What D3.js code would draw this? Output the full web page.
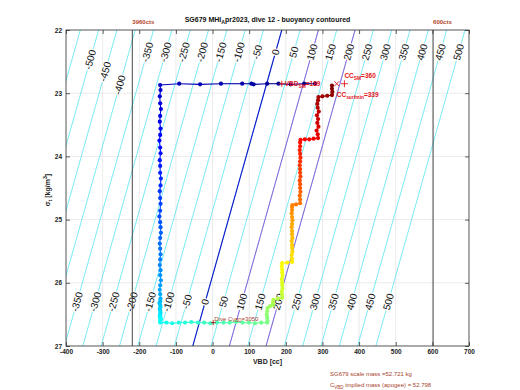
<!DOCTYPE html>
<html><head><meta charset="utf-8">
<script src="https://cdn.jsdelivr.net/npm/d3@7"></script>
<style>body{margin:0;background:#fff}svg{display:block}text{font-family:"Liberation Sans",Arial,Helvetica,sans-serif}</style>
</head><body><svg id="c" width="520" height="390"></svg>
<script>
// ---------- data ----------
const xTicks = [-400,-300,-200,-100,0,100,200,300,400,500,600,700];
const yTicks = [22,23,24,25,26,27];
const contourLevels = [-550,-500,-450,-400,-350,-300,-250,-200,-150,-100,-50,0,50,100,150,200,250,300,350,400,450,500];
const topLabelLevels = [-500,-450,-400,-350,-300,-250,-200,-150,-100,-50,0,50,100,150,200,250,300,350,400,450,500];
const bottomLabelLevels = [-350,-300,-250,-200,-150,-100,-50,0,50,100,150,200,250,300,350,400,450,500];
const neutralLevel = [0];
const purpleLevels = [100, 200];
const refVbd = [-219, 602];
const refLabels = ["3960cts", "600cts"];
// buoyancy contour geometry (VBD at sigma 22 for level 0, and cc change per sigma unit)
const contourOffset = 189, contourSlope = 48.6;

const surfVbd = [280,250,213,180,149,112,106,81,23,-34,-91];
const surfSigma = [22.85,22.85,22.86,22.85,22.85,22.86,22.85,22.85,22.85,22.86,22.85];

const descentVbd = [-143,-142,-144,-143,-141,-143,-144,-142,
 -143,-145,-143,-142,-144,-143,-143,-141,
 -142,-144,-143,-142,-143,-145,-143,-142,
 -141,-143,-144,-143,-142,-143,-144,-142,
 -143,-141,-143,-144,-143,-142,-143,-145,
 -143,-142,-144,-143,-142,-143,-144,-142,
 -143,-141,-143];
const descentSigma = [22.87,22.95,23.05,23.16,23.25,23.36,23.45,23.56,23.66,23.75,23.86,23.95,24.06,24.15,24.26,24.35,24.46,24.55,24.66,24.75,24.86,24.95,
 25.04,25.12,25.21,25.29,25.38,25.46,25.55,25.63,25.72,25.8,25.88,25.96,26.04,26.11,26.18,26.25,
 26.29,26.32,26.35,26.38,26.41,26.44,26.47,26.5,26.52,26.54,26.56,26.58,26.6];

const apogeeVbd = [-143,-126,-110,-92,-75,-58,-40,-23,-6,12,30,47,64,82,99,116,133];
const apogeeSigma = [26.63,26.63,26.64,26.63,26.63,26.62,26.63,26.63,26.64,26.63,26.63,26.63,26.62,26.63,26.63,26.64,26.63];

const climbVbd = [149,150,149,148,149,150, 157,165,165,166, 178,190,
 190,189,191,190,190,189,191,190,190,189,190, 204,217,
 217,216,218,217,217,216,218,217,217,216,217,218,217,216,217,217,218, 228,239,
 239,238,240,239,239,238,240,239,239,238,239,240,239,238,239,239,240,
 252,264,276,288, 287,284,289,286,288,285,290,287,286,288,289, 300,313,326, 327,326,326];
const climbSigma = [26.63,26.6,26.55,26.5,26.45,26.4, 26.37,26.35,26.31,26.27, 26.25,26.24,
 26.19,26.14,26.09,26.04,25.99,25.94,25.89,25.84,25.79,25.74,25.69, 25.68,25.67,
 25.62,25.56,25.51,25.45,25.4,25.34,25.29,25.23,25.18,25.12,25.07,25.01,24.96,24.9,24.85,24.8,24.77, 24.76,24.74,
 24.68,24.62,24.56,24.5,24.44,24.38,24.32,24.26,24.2,24.14,24.08,24.02,23.96,23.9,23.84,23.78,23.74,
 23.73,23.73,23.72,23.71, 23.65,23.59,23.53,23.47,23.41,23.35,23.29,23.23,23.17,23.11,23.06, 23.05,23.04,23.03, 22.98,22.93,22.88];

const smVbd = 189, ccSm = 360, ccSurfmin = 339, diveCvbd = 3050, diveMarkVbd = 2;
const surfaceSigma = 22.85, apogeeSigmaMark = 26.63;
const scaleMass = "52.721", impliedMass = "52.798";

// ---------- drawing ----------
const svg = d3.select("#c");
const x = d3.scaleLinear().domain([-400,700]).range([66,469]);
const y = d3.scaleLinear().domain([22,27]).range([30,346]);
const X0 = x.range()[0], X1 = x.range()[1], Y0 = y.range()[0], Y1 = y.range()[1];
svg.append("rect").attr("width",520).attr("height",390).attr("fill","#fff");
svg.append("defs").append("clipPath").attr("id","clip").append("rect")
  .attr("x",X0).attr("y",Y0).attr("width",X1-X0).attr("height",Y1-Y0);

const plot = svg.append("g").attr("clip-path","url(#clip)");
// grid
plot.selectAll("line.gx").data(xTicks).join("line").attr("x1",d=>x(d)).attr("x2",d=>x(d))
  .attr("y1",Y0).attr("y2",Y1).attr("stroke","#e2e2e2").attr("stroke-width",0.7);
plot.selectAll("line.gy").data(yTicks).join("line").attr("y1",d=>y(d)).attr("y2",d=>y(d))
  .attr("x1",X0).attr("x2",X1).attr("stroke","#e2e2e2").attr("stroke-width",0.7);

const cv = (b,s) => b + contourOffset - contourSlope*(s-22);
function levelLine(g, levels, color, w){
  g.selectAll(null).data(levels).join("line")
   .attr("x1",b=>x(cv(b,21.5))).attr("y1",y(21.5))
   .attr("x2",b=>x(cv(b,27.5))).attr("y2",y(27.5))
   .attr("stroke",color).attr("stroke-width",w);
}
levelLine(plot, contourLevels, "#3fe3ef", 0.7);
levelLine(plot, purpleLevels, "#9a4fd8", 0.9);
levelLine(plot, neutralLevel, "#1414c8", 1.1);

// contour labels
const angle = Math.atan2(y(22)-y(27), x(cv(0,22))-x(cv(0,27)))*180/Math.PI;
function topSigma(b){ return b===-500?22.47 : b===-450?22.66 : b===-400?22.87 : 22.35; }
const labs = topLabelLevels.map(b=>({b,s:topSigma(b)})).concat(bottomLabelLevels.map(b=>({b,s:26.3})));
plot.selectAll("text.cl").data(labs).join("text")
  .attr("transform",d=>`translate(${x(cv(d.b,d.s))},${y(d.s)}) rotate(${angle})`)
  .attr("text-anchor","middle").attr("dy","0.35em")
  .attr("font-size",10).attr("fill","#111")
  .attr("stroke","#fff").attr("stroke-width",2.5).attr("paint-order","stroke")
  .text(d=>String(d.b));

// reference vertical lines
svg.selectAll("line.ref").data(refVbd).join("line")
  .attr("x1",d=>x(d)).attr("x2",d=>x(d)).attr("y1",Y0).attr("y2",Y1)
  .attr("stroke","#333").attr("stroke-width",0.9);
svg.selectAll("text.ref").data(refVbd).join("text")
  .attr("x",d=>x(d)).attr("y",24).attr("font-size",6).attr("font-weight","bold")
  .attr("fill","#b2452a").text((d,i)=>refLabels[i]);

// dive trace
const vbdAll = surfVbd.concat(descentVbd, apogeeVbd, climbVbd);
const sigAll = surfSigma.concat(descentSigma, apogeeSigma, climbSigma);
const N = Math.min(vbdAll.length, sigAll.length);
const pts = d3.range(N).map(i=>({v:vbdAll[i], s:sigAll[i], t:i/(N-1)}));
const cl = v=>Math.max(0,Math.min(1,v));
const jet = t => d3.rgb(255*cl(1.5-Math.abs(4*t-3)),255*cl(1.5-Math.abs(4*t-2)),255*cl(1.5-Math.abs(4*t-1))).toString();
plot.selectAll("line.seg").data(pts.slice(0,-1)).join("line")
  .attr("x1",d=>x(d.v)).attr("y1",d=>y(d.s))
  .attr("x2",(d,i)=>x(pts[i+1].v)).attr("y2",(d,i)=>y(pts[i+1].s))
  .attr("stroke",d=>jet(d.t)).attr("stroke-width",1.1);
plot.selectAll("circle.p").data(pts).join("circle")
  .attr("cx",d=>x(d.v)).attr("cy",d=>y(d.s)).attr("r",2.1)
  .attr("fill",d=>jet(d.t));

// annotations
const red = "#e3141c", brown = "#a8432a";
function plus(g, cx, cy, c, sz){ g.append("path").attr("d",`M${cx-sz},${cy}H${cx+sz}M${cx},${cy-sz}V${cy+sz}`).attr("stroke",c).attr("stroke-width",0.9); }
function cross(g, cx, cy, c, sz){ g.append("path").attr("d",`M${cx-sz},${cy-sz}L${cx+sz},${cy+sz}M${cx-sz},${cy+sz}L${cx+sz},${cy-sz}`).attr("stroke",c).attr("stroke-width",0.9); }
function rich(g, px, py, parts, color, size, bold){
  const t = g.append("text").attr("x",px).attr("y",py).attr("font-size",size).attr("fill",color)
    .attr("font-weight",bold?"bold":"normal");
  parts.forEach(p=>{
    const sp = t.append("tspan").text(p[0]);
    if(p[1]==="sub") sp.attr("font-size",size*0.75).attr("dy",size*0.3);
    else if(p[1]==="sup") sp.attr("font-size",size*0.75).attr("dy",-size*0.45);
    else if(p[1]==="back") sp.attr("dy",-size*0.3);
    else if(p[1]==="backsup") sp.attr("dy",size*0.45);
  });
  return t;
}
const ag = svg.append("g");
plus(ag, x(smVbd), y(surfaceSigma), red, 3);
rich(ag, x(smVbd)+3, y(surfaceSigma)+2.5, [["VBD"],["SM","sub"],["=" + smVbd,"back"]], red, 6.5, true);
plus(ag, x(ccSm), y(surfaceSigma), red, 3.5);
cross(ag, x(ccSurfmin), y(surfaceSigma), red, 2.5);
rich(ag, x(ccSm), y(surfaceSigma)-6, [["CC"],["SM","sub"],["=" + ccSm,"back"]], red, 6.5, true);
rich(ag, x(ccSurfmin), y(surfaceSigma)+13, [["CC"],["surfmin","sub"],["=" + ccSurfmin,"back"]], red, 6.5, true);
plus(ag, x(diveMarkVbd), y(apogeeSigmaMark), "#a02020", 2.5);
rich(ag, x(diveMarkVbd)+1, y(apogeeSigmaMark)-2, [["Dive C"],["VBD","sub"],["=" + diveCvbd,"back"]], brown, 6, false);

// axes
const axB = svg.append("g").attr("transform",`translate(0,${Y1})`)
  .call(d3.axisBottom(x).tickValues(xTicks).tickSize(-4).tickPadding(3).tickFormat(d=>String(d)));
const axL = svg.append("g").attr("transform",`translate(${X0},0)`)
  .call(d3.axisLeft(y).tickValues(yTicks).tickSize(-4).tickPadding(4).tickFormat(d=>String(d)));
const axT = svg.append("g").attr("transform",`translate(0,${Y0})`)
  .call(d3.axisTop(x).tickValues(xTicks).tickSize(-4).tickFormat(""));
const axR = svg.append("g").attr("transform",`translate(${X1},0)`)
  .call(d3.axisRight(y).tickValues(yTicks).tickSize(-4).tickFormat(""));
[axB,axL,axT,axR].forEach(a=>{
  a.select(".domain").remove();
  a.selectAll("line").attr("stroke","#333").attr("stroke-width",0.8);
  a.selectAll("text").attr("font-size",6.5).attr("fill","#222").attr("font-weight","bold")
   .attr("font-family","'Liberation Sans',Arial,sans-serif");
});
svg.append("rect").attr("x",X0).attr("y",Y0).attr("width",X1-X0).attr("height",Y1-Y0)
  .attr("fill","none").attr("stroke","#333").attr("stroke-width",0.8);

// titles
rich(svg, (X0+X1)/2, 22, [["SG679 MHI"],["A","sub"],["pr2023, dive 12 - buoyancy contoured","back"]], "#111", 7, true)
  .attr("text-anchor","middle");
svg.append("text").attr("x",(X0+X1)/2).attr("y",364).attr("text-anchor","middle")
  .attr("font-size",7).attr("font-weight","bold").attr("fill","#222").text("VBD [cc]");
rich(svg, 0, 0, [["σ"],["t","sub"],[" [kg/m","back"],["3","sup"],["]","backsup"]], "#222", 7, true)
  .attr("text-anchor","middle").attr("transform","translate(50,190) rotate(-90)").attr("x",0).attr("y",0);

rich(svg, 330, 376, [["SG679 scale mass =" + scaleMass + " kg"]], brown, 6, false);
rich(svg, 330, 387, [["C"],["VBD","sub"],[" implied mass (apogee) = " + impliedMass,"back"]], brown, 6, false);
</script></body></html>
